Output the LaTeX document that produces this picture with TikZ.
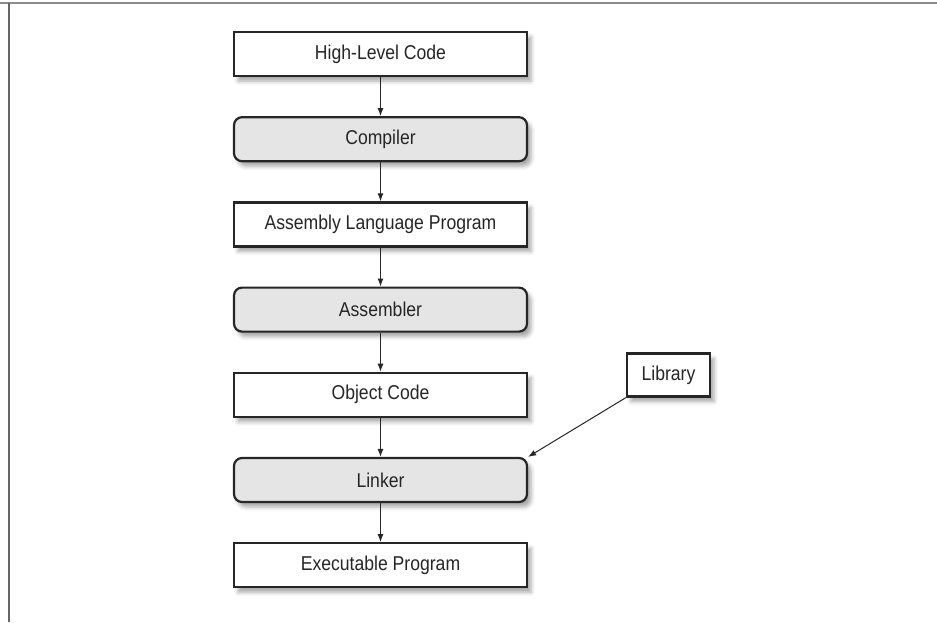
\documentclass[tikz,border=0pt]{standalone}
\usepackage{fontspec}
\setmainfont{Liberation Sans}[FakeStretch=0.88]
\usepackage{tikz}
\usetikzlibrary{arrows.meta, positioning, shadows.blur}

\begin{document}
\begin{tikzpicture}[
    x=1pt, y=-1pt,
    node distance=39pt,
    every node/.style={font=\fontsize{20}{23}\selectfont, text=black!85},
    data/.style={rectangle, draw=black!85, line width=2.2pt, fill=white, minimum width=293pt, minimum height=44pt, align=center,
        blur shadow={shadow xshift=4pt, shadow yshift=-5pt, shadow blur radius=4pt, shadow opacity=35}},
    tool/.style={data, rounded corners=8pt, fill=black!10},
    libbox/.style={data, minimum width=83pt, minimum height=43pt},
    arrow/.style={-{Latex[length=8pt, width=6pt]}, line width=1pt, black!85}
]
\useasboundingbox (0,0) rectangle (937,622);

% Frame
\draw[black!45, line width=2.5pt] (0,3) -- (937,3);
\draw[black!60, line width=1.3pt] (9,3) -- (9,622);

% Nodes
\node[data] (hlc) at (380.5,54) {High-Level Code};
\node[tool, below=of hlc] (compiler) {Compiler};
\node[data, below=of compiler] (asm) {Assembly Language Program};
\node[tool, below=of asm] (assembler) {Assembler};
\node[data, below=of assembler] (obj) {Object Code};
\node[tool, below=of obj] (linker) {Linker};
\node[data, below=of linker] (exe) {Executable Program};
\node[libbox] (lib) at (668.5,375) {Library};

% Arrows
\draw[arrow] (hlc) -- (compiler);
\draw[arrow] (compiler) -- (asm);
\draw[arrow] (asm) -- (assembler);
\draw[arrow] (assembler) -- (obj);
\draw[arrow] (obj) -- (linker);
\draw[arrow] (linker) -- (exe);
\draw[arrow] (lib.south west) -- (linker.north east);

\end{tikzpicture}
\end{document}
